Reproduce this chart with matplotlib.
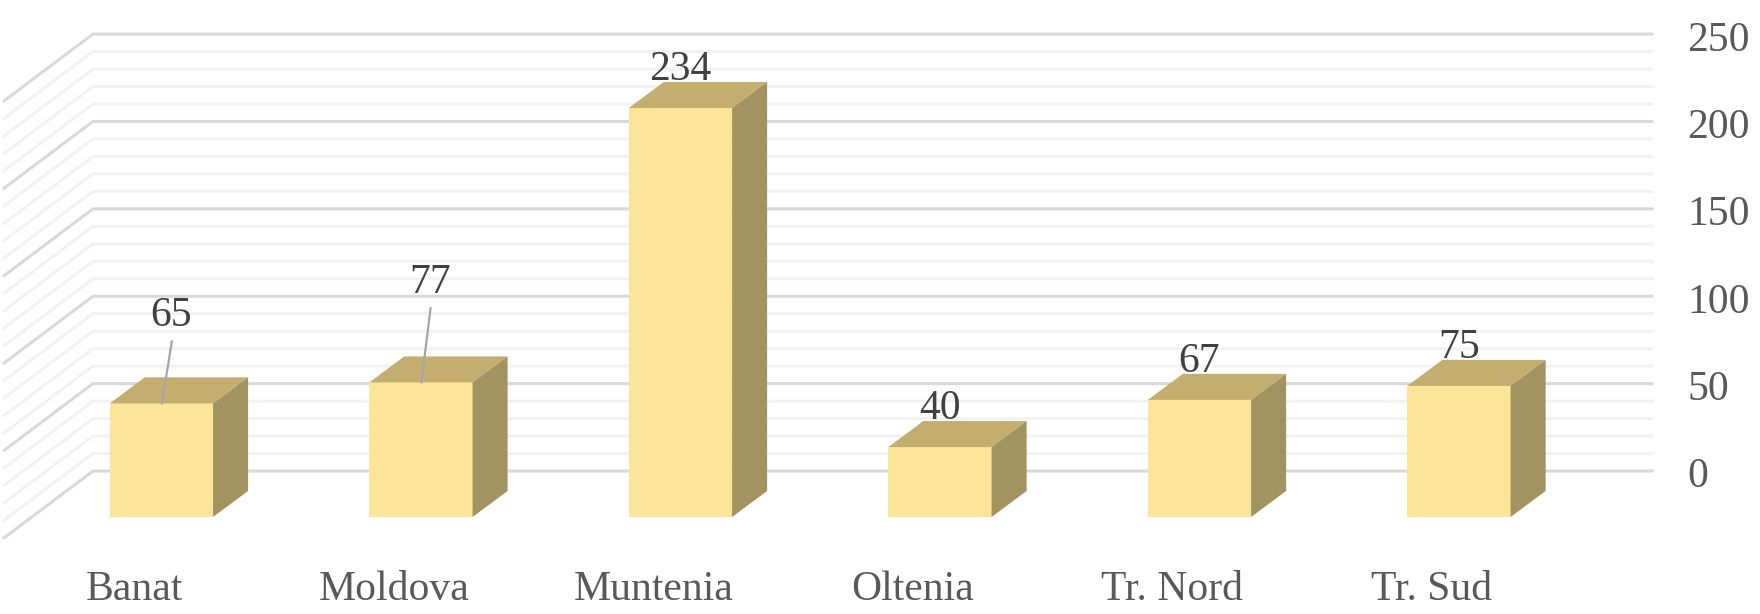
import matplotlib.pyplot as plt
from matplotlib.patches import Polygon

regions = ['Banat', 'Moldova', 'Muntenia', 'Oltenia', 'Tr. Nord', 'Tr. Sud']
counts = [65, 77, 234, 40, 67, 75]
ticks = [0, 50, 100, 150, 200, 250]

plt.rcParams['font.family'] = ['Liberation Serif', 'DejaVu Serif']

fig = plt.figure(figsize=(17.6, 6.14), dpi=100)
ax = fig.add_axes([0, 0, 1, 1])
ax.set_xlim(-0.622, 6.16)
ax.set_ylim(-55.5, 295.8)
ax.axis('off')

# fake 3d: oblique offsets, x in category units, y in value units
half = 0.199
bar_dx, bar_dy = 0.135, 14.9
wall_dy = 26.3
side_dx, side_dy = -0.343, -38.3
wall_left, wall_right = -0.264, 5.745

front_c = '#FCE499'
top_c = '#C4AE6F'
side_c = '#A39360'
fs = 30

# back and side wall grid
for v in range(0, ticks[-1] + 1, 10):
    y = v + wall_dy
    col = '#D9D9D9' if v % 50 == 0 else '#F2F2F2'
    ax.plot([wall_left + side_dx, wall_left, wall_right],
            [y + side_dy, y, y], color=col, lw=2.2,
            solid_capstyle='round', zorder=1)

for t in ticks:
    ax.text(wall_right + 0.134, t + wall_dy - 9.4, str(t), ha='left',
            va='baseline', fontsize=fs, color='#595959')

# bars
for i, v in enumerate(counts):
    l, r = i - half, i + half
    ax.add_patch(Polygon([(l, 0), (r, 0), (r, v), (l, v)],
                         closed=True, fc=front_c, ec='none', zorder=3))
    ax.add_patch(Polygon([(l, v), (r, v), (r + bar_dx, v + bar_dy),
                          (l + bar_dx, v + bar_dy)],
                         closed=True, fc=top_c, ec='none', zorder=3))
    ax.add_patch(Polygon([(r, 0), (r + bar_dx, bar_dy),
                          (r + bar_dx, v + bar_dy), (r, v)],
                         closed=True, fc=side_c, ec='none', zorder=3))

# data labels, two of them pulled up with a leader line
lifted = {0: (0.037, 44), 1: (0.034, 51)}
for i, v in enumerate(counts):
    if i in lifted:
        ox, oy = lifted[i]
        ax.plot([i + ox + 0.003, i + 0.002], [v + oy - 8.5, v],
                color='#A6A6A6', lw=1.6, zorder=4)
        ax.text(i + ox, v + oy, str(v), ha='center', va='baseline',
                fontsize=fs, color='#404040', zorder=5)
    else:
        ax.text(i, v + 16, str(v), ha='center', va='baseline',
                fontsize=fs, color='#404040', zorder=5)

for i, name in enumerate(regions):
    ax.text(i - 0.104, -47.5, name, ha='center', va='baseline',
            fontsize=fs, color='#595959')

fig.savefig('out.png', dpi=100)
